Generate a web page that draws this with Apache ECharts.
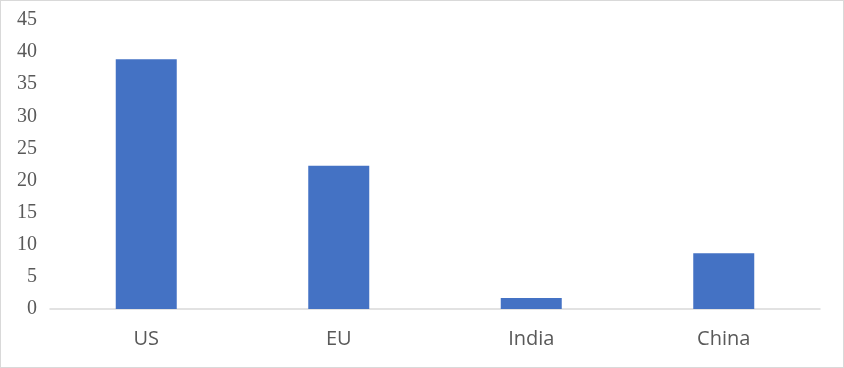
<!DOCTYPE html>
<html><head><meta charset="utf-8">
<script src="https://cdn.jsdelivr.net/npm/echarts@6/dist/echarts.min.js"></script>
<style>html,body{margin:0;padding:0;background:#fff}#c{width:844px;height:368px;box-sizing:border-box;border:1px solid #d9d9d9}</style>
</head><body><div id="c"></div>
<script>
const categories = ['US', 'EU', 'India', 'China'];
const values = [38.9, 22.3, 1.7, 8.7];
const chart = echarts.init(document.getElementById('c'), null, {renderer: 'canvas'});
chart.setOption({
  animation: false,
  grid: {left: 49, right: 23, top: 19, bottom: 58},
  xAxis: {
    type: 'category', data: categories,
    axisLine: {lineStyle: {color: '#d9d9d9', width: 1.5}},
    axisTick: {show: false},
    axisLabel: {color: '#595959', fontSize: 20, fontFamily: 'Open Sans', margin: 20}
  },
  yAxis: {
    type: 'value', min: 0, max: 45, interval: 5,
    axisLine: {show: false}, axisTick: {show: false},
    splitLine: {show: false},
    axisLabel: {color: '#595959', fontSize: 20, fontFamily: 'Liberation Serif', margin: 13}
  },
  series: [{type: 'bar', data: values, barWidth: 61, itemStyle: {color: '#4472c4'}}]
});
</script></body></html>
